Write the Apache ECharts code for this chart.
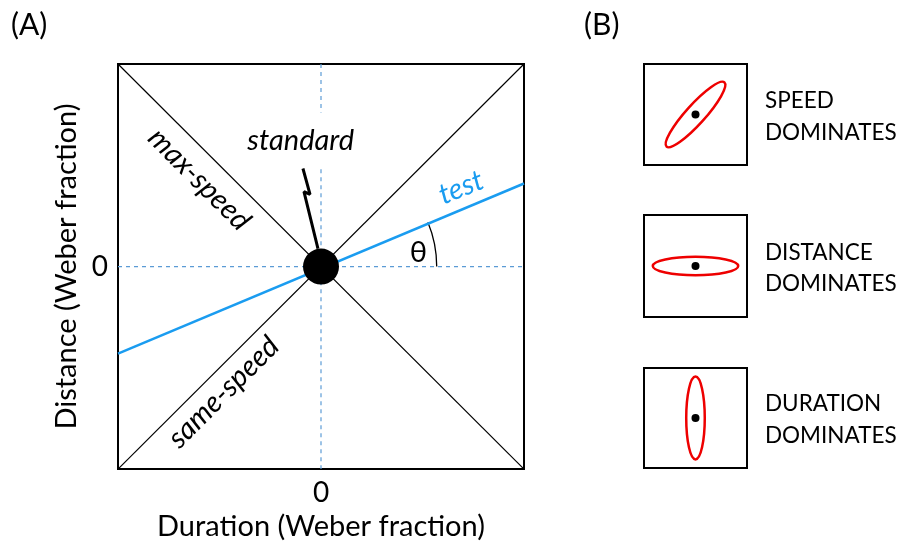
<!DOCTYPE html>
<html>
<head>
<meta charset="utf-8">
<script src="https://cdn.jsdelivr.net/npm/echarts@6/dist/echarts.min.js"></script>
<style>
  html, body { margin: 0; padding: 0; background: #fff; }
  #main { width: 900px; height: 546px; }
</style>
</head>
<body>
<div id="main"></div>
<script>
  // axis ticks: only the 0 is labelled
  var axisTicks = [-1, 0, 1];

  // panel A lines, in Weber-fraction units
  var maxSpeed = [[-1, 1], [1, -1]];
  var sameSpeed = [[-1, -1], [1, 1]];
  var testLine = [[-1, -0.43], [1, 0.41]];
  var zeroH = [[-1, 0], [1, 0]];
  var zeroVTop = [[0, 1], [0, 0.76]];
  var zeroVBottom = [[0, 0.48], [0, -1]];
  var standardBolt = [[-0.089, 0.484], [-0.054, 0.356], [-0.084, 0.37], [-0.015, 0.089]];
  var standardPoint = [[0, 0]];
  var thetaArc = [[0, 0, 0.57, 22.5]]; // x, y, radius, angle (deg)

  // panel B: ellipse = [cx, cy, rx, ry, rotation deg]
  var ellipseSpeed = [[0, 0, 0.84, 0.19, 48]];
  var ellipseDistance = [[0, 0, 0.83, 0.18, 0]];
  var ellipseDuration = [[0, 0, 0.18, 0.83, 0]];
  var panelBLabels = ['SPEED\nDOMINATES', 'DISTANCE\nDOMINATES', 'DURATION\nDOMINATES'];

  var FONT = 'Lato';
  var BLUE = '#1a9cf0';
  var DASH = '#5b9bd5';

  var myChart = echarts.init(document.getElementById('main'));

  function zeroOnly(v) { return v === 0 ? '0' : ''; }

  function mkAxis(type, grid, name) {
    var a = {
      type: 'value', gridIndex: grid, min: -1, max: 1, interval: 1,
      axisLine: { show: false }, axisTick: { show: false }, splitLine: { show: false },
      axisLabel: { show: false }
    };
    if (grid === 0) {
      a.axisLabel = { show: true, formatter: zeroOnly, fontFamily: FONT, fontSize: 28, color: '#000', margin: 10 };
      a.name = name;
      a.nameLocation = 'middle';
      a.nameTextStyle = { fontFamily: FONT, fontSize: 29, color: '#000' };
      a.nameGap = type === 'x' ? 42 : 37;
    }
    return a;
  }

  function lineSeries(data, color, width, dashed, z) {
    return {
      type: 'line', xAxisIndex: 0, yAxisIndex: 0, data: data, symbol: 'none', z: z,
      lineStyle: { color: color, width: width, type: dashed ? [4, 4] : 'solid' },
      silent: true, animation: false
    };
  }

  function ellipseSeries(idx, data) {
    return {
      type: 'custom', xAxisIndex: idx, yAxisIndex: idx, data: data, animation: false,
      renderItem: function (params, api) {
        var c = api.coord([api.value(0), api.value(1)]);
        var s = api.size([api.value(2), api.value(3)]);
        return {
          type: 'ellipse', x: c[0], y: c[1], rotation: api.value(4) * Math.PI / 180,
          shape: { cx: 0, cy: 0, rx: s[0], ry: s[1] },
          style: { fill: null, stroke: '#ee0000', lineWidth: 2.5 }
        };
      }
    };
  }

  function dotSeries(idx) {
    return {
      type: 'scatter', xAxisIndex: idx, yAxisIndex: idx, data: [[0, 0]],
      symbolSize: 8, itemStyle: { color: '#000', opacity: 1 }, z: 5, animation: false
    };
  }

  function textPoint(x, y, text, rot, style) {
    return {
      value: [x, y],
      label: Object.assign({
        show: true, position: 'inside', formatter: text, rotate: rot,
        fontFamily: FONT, fontSize: 29, color: '#000'
      }, style || {})
    };
  }

  var bText = { fontFamily: FONT, fontSize: 22.5, lineHeight: 32, fontWeight: 'normal', color: '#000' };

  var option = {
    backgroundColor: '#fff',
    title: [
      { text: '(A)', left: 6, top: 5, textStyle: { fontFamily: FONT, fontSize: 30, fontWeight: 'normal', color: '#000' } },
      { text: '(B)', left: 579, top: 5, textStyle: { fontFamily: FONT, fontSize: 30, fontWeight: 'normal', color: '#000' } },
      { text: panelBLabels[0], left: 760, top: 80, textStyle: bText },
      { text: panelBLabels[1], left: 760, top: 232, textStyle: Object.assign({}, bText, { lineHeight: 31 }) },
      { text: panelBLabels[2], left: 760, top: 383, textStyle: bText }
    ],
    grid: [
      { left: 118, top: 64, width: 406, height: 406, show: true, borderColor: '#000', borderWidth: 2, backgroundColor: 'transparent' },
      { left: 644, top: 64, width: 103, height: 101, show: true, borderColor: '#000', borderWidth: 2 },
      { left: 644, top: 215, width: 103, height: 102, show: true, borderColor: '#000', borderWidth: 2 },
      { left: 644, top: 368, width: 103, height: 100, show: true, borderColor: '#000', borderWidth: 2 }
    ],
    xAxis: [mkAxis('x', 0, 'Duration (Weber fraction)'), mkAxis('x', 1), mkAxis('x', 2), mkAxis('x', 3)],
    yAxis: [mkAxis('y', 0, 'Distance (Weber fraction)'), mkAxis('y', 1), mkAxis('y', 2), mkAxis('y', 3)],
    series: [
      lineSeries(zeroH, DASH, 1.2, true, 1),
      lineSeries(zeroVTop, DASH, 1.2, true, 1),
      lineSeries(zeroVBottom, DASH, 1.2, true, 1),
      lineSeries(maxSpeed, '#000', 1.2, false, 2),
      lineSeries(sameSpeed, '#000', 1.2, false, 2),
      lineSeries(testLine, BLUE, 2.5, false, 3),
      lineSeries(standardBolt, '#000', 3, false, 3),
      {
        type: 'custom', xAxisIndex: 0, yAxisIndex: 0, data: thetaArc, animation: false, z: 3,
        renderItem: function (params, api) {
          var c = api.coord([api.value(0), api.value(1)]);
          var r = api.size([api.value(2), 0])[0];
          return {
            type: 'arc',
            shape: { cx: c[0], cy: c[1], r: r, startAngle: -api.value(3) * Math.PI / 180, endAngle: 0, clockwise: true },
            style: { stroke: '#000', fill: null, lineWidth: 1.3 }
          };
        }
      },
      {
        type: 'scatter', xAxisIndex: 0, yAxisIndex: 0, data: standardPoint,
        symbolSize: 36, itemStyle: { color: '#000', opacity: 1 }, z: 5, animation: false
      },
      {
        type: 'scatter', xAxisIndex: 0, yAxisIndex: 0, symbolSize: 0, z: 6, animation: false, silent: true,
        itemStyle: { opacity: 1 },
        data: [
          textPoint(-0.6, 0.43, 'max-speed', -45, { fontStyle: 'italic' }),
          textPoint(-0.48, -0.62, 'same-speed', 45, { fontStyle: 'italic' }),
          textPoint(-0.1, 0.62, 'standard', 0, { fontStyle: 'italic' }),
          textPoint(0.69, 0.39, 'test', 22, { fontStyle: 'italic', color: BLUE }),
          textPoint(0.48, 0.07, 'θ', 0)
        ]
      },
      ellipseSeries(1, ellipseSpeed), dotSeries(1),
      ellipseSeries(2, ellipseDistance), dotSeries(2),
      ellipseSeries(3, ellipseDuration), dotSeries(3)
    ]
  };
  myChart.setOption(option);
</script>
</body>
</html>
